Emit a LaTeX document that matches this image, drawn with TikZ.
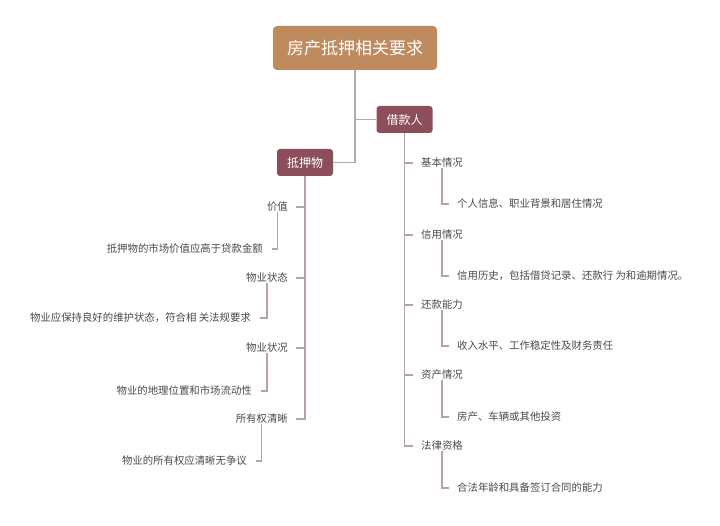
\documentclass[tikz,border=0pt]{standalone}
\usepackage{fontspec}
\setmainfont{Noto Sans CJK SC}
\definecolor{rootfill}{HTML}{C08A5F}
\definecolor{branchfill}{HTML}{8C4E5B}
\definecolor{rootline}{HTML}{B2ADAD}
\definecolor{branchline}{HTML}{B8A2A7}
\definecolor{leaftext}{HTML}{4A4A4A}
\begin{document}
\begin{tikzpicture}[x=1pt, y=-1pt,
    topic/.style ={rectangle, rounded corners=4pt, fill=rootfill, text=white,
      minimum width=164pt, minimum height=44pt, font=\fontsize{17}{17}\selectfont},
    branch/.style ={rectangle, rounded corners=3pt, fill=branchfill, text=white,
      minimum width=56pt, minimum height=27pt, font=\fontsize{12}{12}\selectfont},
    leaf/.style ={text=leaftext, inner sep=3pt, font=\fontsize{10.4}{10.4}\selectfont},
    link/.style ={line width=1.3pt, color=branchline}]
   \useasboundingbox (0,0) rectangle (720,526);
   \fill[white] (0,0) rectangle (720,526);

   \node[topic]  (root)  at (355,48)  {房产抵押相关要求};
   \node[branch] (loan)  at (404.5,119.5)  {借款人};
   \node[branch] (coll)  at (305,162.5)  {抵押物};

   % 借款人
   \node[leaf, anchor=west] (r1)  at (418,163)  {基本情况};
   \node[leaf, anchor=west] (r1a) at (454,204)  {个人信息、职业背景和居住情况};
   \node[leaf, anchor=west] (r2)  at (418,235)  {信用情况};
   \node[leaf, anchor=west] (r2a) at (454,276)  {信用历史，包括借贷记录、还款行 为和逾期情况。};
   \node[leaf, anchor=west] (r3)  at (418,305)  {还款能力};
   \node[leaf, anchor=west] (r3a) at (454,346)  {收入水平、工作稳定性及财务责任};
   \node[leaf, anchor=west] (r4)  at (418,375)  {资产情况};
   \node[leaf, anchor=west] (r4a) at (454,417)  {房产、车辆或其他投资};
   \node[leaf, anchor=west] (r5)  at (418,446)  {法律资格};
   \node[leaf, anchor=west] (r5a) at (454,488)  {合法年龄和具备签订合同的能力};

   % 抵押物
   \node[leaf, anchor=east] (l1)  at (291,207)  {价值};
   \node[leaf, anchor=east] (l1a) at (266,249)  {抵押物的市场价值应高于贷款金额};
   \node[leaf, anchor=east] (l2)  at (291,278)  {物业状态};
   \node[leaf, anchor=east] (l2a) at (254,318)  {物业应保持良好的维护状态，符合相 关法规要求};
   \node[leaf, anchor=east] (l3)  at (291,348)  {物业状况};
   \node[leaf, anchor=east] (l3a) at (255,391)  {物业的地理位置和市场流动性};
   \node[leaf, anchor=east] (l4)  at (291,419)  {所有权清晰};
   \node[leaf, anchor=east] (l4a) at (250,461)  {物业的所有权应清晰无争议};

   \draw[line width=1.5pt, rootline] (root.south) |- (loan.west);
   \draw[line width=1.5pt, rootline] (root.south) |- (coll.east);

   \draw[link] (loan.south) |- ([xshift=-5pt]r1.west);
   \draw[link] (loan.south) |- ([xshift=-5pt]r2.west);
   \draw[link] (loan.south) |- ([xshift=-5pt]r3.west);
   \draw[link] (loan.south) |- ([xshift=-5pt]r4.west);
   \draw[link] (loan.south) |- ([xshift=-5pt]r5.west);

   \draw[link] ([yshift=3pt]r1.south) |- ([xshift=-5pt]r1a.west);
   \draw[link] ([yshift=3pt]r2.south) |- ([xshift=-5pt]r2a.west);
   \draw[link] ([yshift=3pt]r3.south) |- ([xshift=-5pt]r3a.west);
   \draw[link] ([yshift=3pt]r4.south) |- ([xshift=-5pt]r4a.west);
   \draw[link] ([yshift=3pt]r5.south) |- ([xshift=-5pt]r5a.west);

   \draw[link] (coll.south) |- ([xshift=5pt]l1.east);
   \draw[link] (coll.south) |- ([xshift=5pt]l2.east);
   \draw[link] (coll.south) |- ([xshift=5pt]l3.east);
   \draw[link] (coll.south) |- ([xshift=5pt]l4.east);

   \draw[link] ([yshift=3pt]l1.south) |- ([xshift=6pt]l1a.east);
   \draw[link] ([yshift=3pt]l2.south) |- ([xshift=6pt]l2a.east);
   \draw[link] ([yshift=3pt]l3.south) |- ([xshift=6pt]l3a.east);
   \draw[link] ([yshift=3pt]l4.south) |- ([xshift=6pt]l4a.east);

 \end{tikzpicture}
\end{document}
